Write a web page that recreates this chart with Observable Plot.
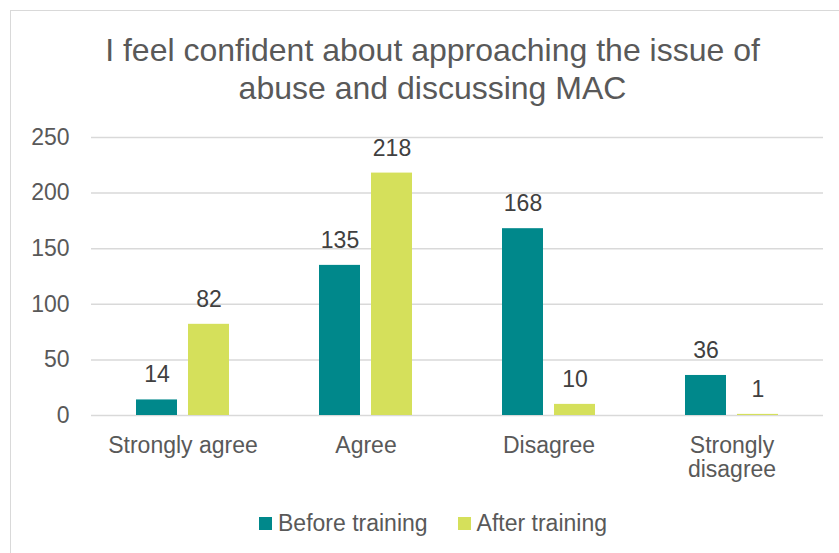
<!DOCTYPE html>
<html>
<head>
<meta charset="utf-8">
<script src="https://cdn.jsdelivr.net/npm/d3@7"></script>
<script src="https://cdn.jsdelivr.net/npm/@observablehq/plot@0.6"></script>
<style>
  html, body { margin: 0; padding: 0; background: #fff; }
  body { width: 839px; height: 553px; overflow: hidden; position: relative; font-family: "Liberation Sans", Arial, sans-serif; color: #595959; }
  #frame { position: absolute; left: 10px; top: 10px; width: 845px; height: 560px; border: 1.5px solid #d9d9d9; box-sizing: border-box; }
  #title { position: absolute; left: 10px; top: 31px; width: 845px; text-align: center; font-size: 32px; line-height: 38px; color: #595959; }
  #chart { position: absolute; left: 0; top: 0; }
  #legend { position: absolute; left: 0; top: 510px; width: 866px; display: flex; justify-content: center; gap: 30px; font-size: 23px; line-height: 26px; }
  .item { display: flex; align-items: center; gap: 6px; }
  .sw { width: 13px; height: 13px; display: inline-block; }
</style>
</head>
<body>
<div id="frame"></div>
<div id="title">I feel confident about approaching the issue of<br>abuse and discussing MAC</div>
<div id="chart"></div>
<div id="legend"></div>
<script>
const categories = ["Strongly agree", "Agree", "Disagree", "Strongly disagree"];
const series = ["Before training", "After training"];
const beforeValues = [14, 135, 168, 36];
const afterValues = [82, 218, 10, 1];
const yTicks = [0, 50, 100, 150, 200, 250];
const colors = ["#00888b", "#d5e05b"];
const categoryLabels = {"Strongly agree": "Strongly agree", "Agree": "Agree", "Disagree": "Disagree", "Strongly disagree": "Strongly\ndisagree"};

const data = [];
categories.forEach((c, i) => {
  data.push({category: c, series: series[0], value: beforeValues[i]});
  data.push({category: c, series: series[1], value: afterValues[i]});
});

const plot = Plot.plot({
  width: 839,
  height: 500,
  marginLeft: 89,
  marginRight: 15,
  marginTop: 137,
  marginBottom: 85,
  style: {fontFamily: "'Liberation Sans', Arial, sans-serif", fontSize: "23px", color: "#595959", background: "transparent"},
  fx: {domain: categories, padding: 0, label: null},
  x: {domain: series, paddingInner: 0.2095, paddingOuter: 0.8548, axis: null},
  y: {domain: [0, 250], label: null},
  color: {domain: series, range: colors},
  marks: [
    Plot.gridY(yTicks, {stroke: "#d9d9d9", strokeOpacity: 1, strokeWidth: 1.5}),
    Plot.axisY(yTicks, {tickSize: 0, tickPadding: 22, fontSize: 23, fill: "#595959", label: null}),
    Plot.axisFx({anchor: "bottom", tickSize: 0, tickPadding: 20, fontSize: 23, fill: "#595959", label: null, lineHeight: 1.05, tickFormat: d => categoryLabels[d]}),
    Plot.barY(data, {fx: "category", x: "series", y: "value", fill: "series"}),
    Plot.text(data, {fx: "category", x: "series", y: "value", text: d => String(d.value), lineAnchor: "bottom", dy: -17.5, fontSize: 23, fill: "#404040"})
  ]
});
document.getElementById("chart").appendChild(plot);

const legend = document.getElementById("legend");
series.forEach((s, i) => {
  const item = document.createElement("div");
  item.className = "item";
  const sw = document.createElement("span");
  sw.className = "sw";
  sw.style.background = colors[i];
  const t = document.createElement("span");
  t.textContent = s;
  item.appendChild(sw);
  item.appendChild(t);
  legend.appendChild(item);
});
</script>
</body>
</html>
